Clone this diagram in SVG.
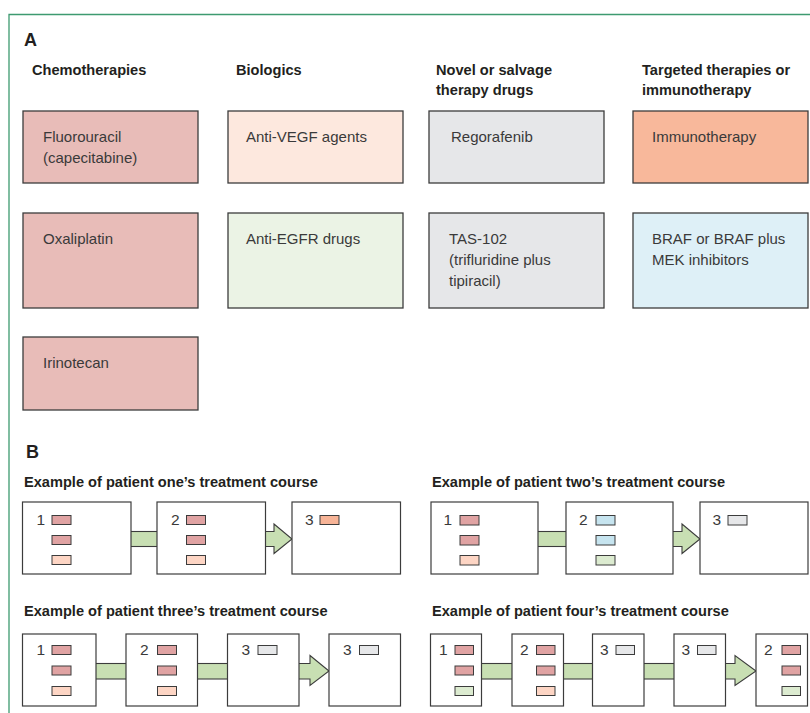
<svg xmlns="http://www.w3.org/2000/svg" width="810" height="713" viewBox="0 0 810 713">
<style>
.frame{fill:none;stroke:#3d9a70;stroke-width:1.3}
.lbl{font-family:"Liberation Sans",Arial,sans-serif;font-weight:bold;font-size:18px;fill:#231f20}
.hd{font-family:"Liberation Sans",Arial,sans-serif;font-weight:bold;font-size:14.6px;fill:#231f20}
.bt{font-family:"Liberation Sans",Arial,sans-serif;font-size:15px;fill:#3a3a3a}
.num{font-family:"Liberation Sans",Arial,sans-serif;font-size:15.5px;fill:#3a3a3a}
.big{stroke:#3c3c3c;stroke-width:1.3}
.pb{fill:#fff;stroke:#3c3c3c;stroke-width:1.2}
.sq{stroke:#3c3c3c;stroke-width:1}
.con{fill:#c8dfb3;stroke:#3c3c3c;stroke-width:1.1;stroke-linejoin:miter}
.chemo{fill:#e8bcb8}.vegf{fill:#fde8de}.grey{fill:#e6e7e9}.immu{fill:#f8b89b}.egfr{fill:#ebf3e5}.braf{fill:#def0f7}
.sc{fill:#e0a3a3}.sp{fill:#fdd5c4}.so{fill:#f7b497}.sg{fill:#e6e7e9}.sb{fill:#c6e4ef}.sgr{fill:#dcebd0}
</style>
<path class="frame" d="M9,713 V14.5 H810"/>
<text class="lbl" x="24" y="46">A</text>
<text class="hd" x="32" y="75">Chemotherapies</text>
<text class="hd" x="236" y="75">Biologics</text>
<text class="hd" x="436" y="75">Novel or salvage</text>
<text class="hd" x="436" y="95">therapy drugs</text>
<text class="hd" x="642" y="75">Targeted therapies or</text>
<text class="hd" x="642" y="95">immunotherapy</text>

<g id="fluorouracil"><rect class="big chemo" x="23" y="111" width="175" height="72"/><text class="bt" x="43" y="142">Fluorouracil</text><text class="bt" x="43" y="163">(capecitabine)</text></g>
<g id="anti-vegf"><rect class="big vegf" x="228" y="111" width="175" height="72"/><text class="bt" x="246" y="142">Anti-VEGF agents</text></g>
<g id="regorafenib"><rect class="big grey" x="429" y="111" width="175" height="72"/><text class="bt" x="451" y="142">Regorafenib</text></g>
<g id="immunotherapy"><rect class="big immu" x="633" y="111" width="175" height="72"/><text class="bt" x="652" y="142">Immunotherapy</text></g>
<g id="oxaliplatin"><rect class="big chemo" x="23" y="213" width="175" height="95"/><text class="bt" x="43" y="244">Oxaliplatin</text></g>
<g id="anti-egfr"><rect class="big egfr" x="228" y="213" width="175" height="95"/><text class="bt" x="246" y="244">Anti-EGFR drugs</text></g>
<g id="tas102"><rect class="big grey" x="429" y="213" width="175" height="95"/><text class="bt" x="449" y="244">TAS-102</text><text class="bt" x="449" y="265">(trifluridine plus</text><text class="bt" x="449" y="286">tipiracil)</text></g>
<g id="braf"><rect class="big braf" x="633" y="213" width="175" height="95"/><text class="bt" x="652" y="244">BRAF or BRAF plus</text><text class="bt" x="652" y="265">MEK inhibitors</text></g>
<g id="irinotecan"><rect class="big chemo" x="23" y="337" width="175" height="73"/><text class="bt" x="43" y="368">Irinotecan</text></g>

<text class="lbl" x="26" y="458">B</text>
<text class="hd" x="24" y="487">Example of patient one’s treatment course</text>
<text class="hd" x="432" y="487">Example of patient two’s treatment course</text>
<text class="hd" x="24" y="616">Example of patient three’s treatment course</text>
<text class="hd" x="432" y="616">Example of patient four’s treatment course</text>

<g id="connectors">
<rect class="con" x="125" y="531.5" width="38" height="15"/>
<path class="con" d="M259,531.5 H274 V524 L292,539 L274,553.5 V546.5 H259 Z"/>
<rect class="con" x="532" y="531.5" width="40" height="15"/>
<path class="con" d="M667,531.5 H682 V524 L700,539 L682,553.5 V546.5 H667 Z"/>
<rect class="con" x="90" y="663.5" width="42" height="15.5"/>
<rect class="con" x="191" y="663.5" width="43" height="15.5"/>
<path class="con" d="M293,663.5 H310 V655.5 L329,671 L310,685.5 V679 H293 Z"/>
<rect class="con" x="476" y="663.5" width="42" height="15.5"/>
<rect class="con" x="557" y="663.5" width="42" height="15.5"/>
<rect class="con" x="638" y="663.5" width="42" height="15.5"/>
<path class="con" d="M720,663.5 H735 V655.5 L756,671 L735,685.5 V679 H720 Z"/>
</g>

<g id="p1-s1"><rect class="pb" x="22.5" y="502" width="108.5" height="72"/><text class="num" x="36.5" y="525">1</text><rect class="sq sc" x="52" y="515.5" width="19" height="9"/><rect class="sq sc" x="52" y="535.5" width="19" height="9"/><rect class="sq sp" x="52" y="555.5" width="19" height="9"/></g>
<g id="p1-s2"><rect class="pb" x="157" y="502" width="108.5" height="72"/><text class="num" x="171" y="525">2</text><rect class="sq sc" x="186.5" y="515.5" width="19" height="9"/><rect class="sq sc" x="186.5" y="535.5" width="19" height="9"/><rect class="sq sp" x="186.5" y="555.5" width="19" height="9"/></g>
<g id="p1-s3"><rect class="pb" x="292" y="502" width="108.5" height="72"/><text class="num" x="305" y="525">3</text><rect class="sq so" x="320" y="515.5" width="19" height="9"/></g>

<g id="p2-s1"><rect class="pb" x="431" y="502" width="107" height="72"/><text class="num" x="443.5" y="525">1</text><rect class="sq sc" x="460" y="515.5" width="19" height="9.5"/><rect class="sq sc" x="460" y="535.5" width="19" height="9.5"/><rect class="sq sp" x="460" y="555.5" width="19" height="9.5"/></g>
<g id="p2-s2"><rect class="pb" x="566" y="502" width="107" height="72"/><text class="num" x="579" y="525">2</text><rect class="sq sb" x="596" y="515.5" width="19" height="9.5"/><rect class="sq sb" x="596" y="535.5" width="19" height="9.5"/><rect class="sq sgr" x="596" y="555.5" width="19" height="9.5"/></g>
<g id="p2-s3"><rect class="pb" x="700" y="502" width="108" height="72"/><text class="num" x="712.5" y="525">3</text><rect class="sq sg" x="728" y="515.5" width="19" height="9.5"/></g>

<g id="p3-s1"><rect class="pb" x="22.5" y="634" width="73.5" height="72"/><text class="num" x="36.5" y="655">1</text><rect class="sq sc" x="52" y="645.5" width="19" height="9"/><rect class="sq sc" x="52" y="666" width="19" height="9"/><rect class="sq sp" x="52" y="686.5" width="19" height="9"/></g>
<g id="p3-s2"><rect class="pb" x="126" y="634" width="71.5" height="72"/><text class="num" x="140" y="655">2</text><rect class="sq sc" x="157.5" y="645.5" width="19" height="9"/><rect class="sq sc" x="157.5" y="666" width="19" height="9"/><rect class="sq sp" x="157.5" y="686.5" width="19" height="9"/></g>
<g id="p3-s3"><rect class="pb" x="227.5" y="634" width="71.5" height="72"/><text class="num" x="241.5" y="655">3</text><rect class="sq sg" x="258" y="645.5" width="19" height="9"/></g>
<g id="p3-s4"><rect class="pb" x="329" y="634" width="71.5" height="72"/><text class="num" x="343" y="655">3</text><rect class="sq sg" x="359.5" y="645.5" width="19" height="9"/></g>

<g id="p4-s1"><rect class="pb" x="430.5" y="634" width="51" height="72"/><text class="num" x="439" y="655">1</text><rect class="sq sc" x="455" y="645.5" width="18.5" height="9"/><rect class="sq sc" x="455" y="666" width="18.5" height="9"/><rect class="sq sgr" x="455" y="686.5" width="18.5" height="9"/></g>
<g id="p4-s2"><rect class="pb" x="512" y="634" width="51.5" height="72"/><text class="num" x="520" y="655">2</text><rect class="sq sc" x="536.5" y="645.5" width="18.5" height="9"/><rect class="sq sc" x="536.5" y="666" width="18.5" height="9"/><rect class="sq sp" x="536.5" y="686.5" width="18.5" height="9"/></g>
<g id="p4-s3"><rect class="pb" x="592.5" y="634" width="51.5" height="72"/><text class="num" x="600" y="655">3</text><rect class="sq sg" x="616" y="645.5" width="18.5" height="9"/></g>
<g id="p4-s4"><rect class="pb" x="674" y="634" width="51.5" height="72"/><text class="num" x="681.5" y="655">3</text><rect class="sq sg" x="697.5" y="645.5" width="18.5" height="9"/></g>
<g id="p4-s5"><rect class="pb" x="756" y="634" width="51.5" height="72"/><text class="num" x="764" y="655">2</text><rect class="sq sc" x="782" y="645.5" width="18.5" height="9"/><rect class="sq sc" x="782" y="666" width="18.5" height="9"/><rect class="sq sgr" x="782" y="686.5" width="18.5" height="9"/></g>
</svg>
